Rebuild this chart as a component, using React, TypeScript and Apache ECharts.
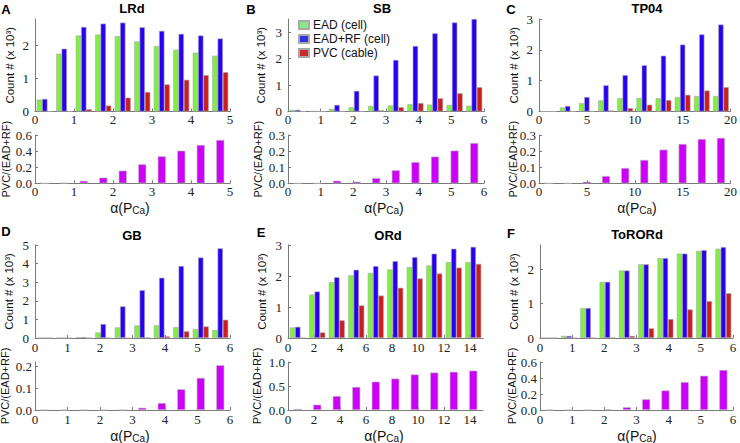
import React, { useEffect, useRef } from "react";
import * as echarts from "echarts";

// ---------- data ----------
const seriesNames = ["EAD (cell)", "EAD+RF (cell)", "PVC (cable)"];
const panelLetters = ["A", "B", "C", "D", "E", "F"];
const modelNames = ["LRd", "SB", "TP04", "GB", "ORd", "ToRORd"];

const alphaLRd = [0.25, 0.75, 1.25, 1.75, 2.25, 2.75, 3.25, 3.75, 4.25, 4.75];
const eadLRd = [0.36, 1.75, 2.3, 2.33, 2.28, 2.12, 1.98, 1.87, 1.78, 1.69];
const eadRfLRd = [0.38, 1.9, 2.56, 2.66, 2.69, 2.55, 2.44, 2.35, 2.3, 2.21];
const pvcLRd = [0, 0.005, 0.07, 0.18, 0.42, 0.59, 0.82, 0.96, 1.1, 1.19];
const ratioLRd = [0, 0.005, 0.029, 0.07, 0.157, 0.236, 0.335, 0.405, 0.476, 0.538];

const alphaSB = [0.3, 0.9, 1.5, 2.1, 2.7, 3.3, 3.9, 4.5, 5.1, 5.7];
const eadSB = [0.06, 0.01, 0.1, 0.16, 0.21, 0.23, 0.28, 0.26, 0.25, 0.22];
const eadRfSB = [0.06, 0.005, 0.25, 0.78, 1.36, 1.95, 2.48, 2.96, 3.37, 3.5];
const pvcSB = [0, 0, 0.004, 0.008, 0.04, 0.16, 0.32, 0.5, 0.69, 0.92];
const ratioSB = [0, 0, 0.016, 0.01, 0.032, 0.081, 0.132, 0.166, 0.203, 0.25];

const alphaTP04 = [1, 3, 5, 7, 9, 11, 13, 15, 17, 19];
const eadTP04 = [0, 0.13, 0.27, 0.36, 0.43, 0.44, 0.43, 0.47, 0.5, 0.5];
const eadRfTP04 = [0, 0.18, 0.47, 0.85, 1.18, 1.5, 1.81, 2.17, 2.5, 2.82];
const pvcTP04 = [0, 0, 0.005, 0.03, 0.11, 0.22, 0.37, 0.54, 0.68, 0.79];
const ratioTP04 = [0, 0, 0.01, 0.045, 0.095, 0.145, 0.209, 0.244, 0.275, 0.282];

const alphaGB = [0.3, 0.9, 1.5, 2.1, 2.7, 3.3, 3.9, 4.5, 5.1, 5.7];
const eadGB = [0, 0, 0.04, 0.3, 0.57, 0.68, 0.68, 0.58, 0.48, 0.43];
const eadRfGB = [0, 0, 0.05, 0.75, 1.7, 2.57, 3.24, 3.87, 4.33, 4.82];
const pvcGB = [0, 0, 0, 0, 0, 0.02, 0.09, 0.36, 0.62, 0.98];
const ratioGB = [0, 0, 0, 0, 0, 0.01, 0.032, 0.095, 0.147, 0.205];

const alphaORd = [0.75, 2.25, 3.75, 5.25, 6.75, 8.25, 9.75, 11.25, 12.75, 14.25];
const eadORd = [0.34, 1.4, 1.8, 2.02, 2.1, 2.21, 2.29, 2.34, 2.45, 2.45];
const eadRfORd = [0.36, 1.5, 1.96, 2.2, 2.32, 2.48, 2.61, 2.72, 2.88, 2.94];
const pvcORd = [0, 0.18, 0.57, 1.05, 1.37, 1.62, 1.92, 2.08, 2.27, 2.39];
const ratioORd = [0.02, 0.11, 0.29, 0.48, 0.59, 0.655, 0.74, 0.78, 0.795, 0.82];

const alphaToRORd = [0.3, 0.9, 1.5, 2.1, 2.7, 3.3, 3.9, 4.5, 5.1, 5.7];
const eadToRORd = [0, 0.06, 0.87, 1.63, 1.96, 2.14, 2.32, 2.45, 2.53, 2.59];
const eadRfToRORd = [0, 0.06, 0.87, 1.63, 1.96, 2.14, 2.32, 2.45, 2.55, 2.64];
const pvcToRORd = [0, 0, 0, 0.01, 0.06, 0.28, 0.55, 0.83, 1.07, 1.3];
const ratioToRORd = [0, 0, 0, 0.008, 0.034, 0.134, 0.244, 0.349, 0.428, 0.5];

const xAxisMax = [5, 6, 20, 6, 15, 6];
const xAxisInterval = [1, 1, 5, 1, 2, 1];
const countAxisMax = [2.8, 3.5, 3, 5, 3, 2.7];
const ratioAxisMax = [0.6, 0.3, 0.3, 0.22, 1.0, 0.6];
const ratioAxisInterval = [0.2, 0.1, 0.1, 0.1, 0.5, 0.2];

const panelData = [
  { alpha: alphaLRd, ead: eadLRd, eadRf: eadRfLRd, pvc: pvcLRd, ratio: ratioLRd },
  { alpha: alphaSB, ead: eadSB, eadRf: eadRfSB, pvc: pvcSB, ratio: ratioSB },
  { alpha: alphaTP04, ead: eadTP04, eadRf: eadRfTP04, pvc: pvcTP04, ratio: ratioTP04 },
  { alpha: alphaGB, ead: eadGB, eadRf: eadRfGB, pvc: pvcGB, ratio: ratioGB },
  { alpha: alphaORd, ead: eadORd, eadRf: eadRfORd, pvc: pvcORd, ratio: ratioORd },
  { alpha: alphaToRORd, ead: eadToRORd, eadRf: eadRfToRORd, pvc: pvcToRORd, ratio: ratioToRORd },
];

// ---------- layout / style ----------
const plotLeft = [35, 288, 539, 35, 288, 540];
const plotRight = [230, 484, 733, 230, 483, 733];
const rowLayout = [
  { countTop: 19, countBottom: 111.5, ratioTop: 135, ratioBottom: 183.3, countLabelMargin: 1, ratioLabelMargin: 2, alphaY: 208 },
  { countTop: 245, countBottom: 338, ratioTop: 362, ratioBottom: 410, countLabelMargin: 3, ratioLabelMargin: 2.5, alphaY: 436 },
];
const letterPos = [[6, 9], [251, 9], [511, 9], [6, 231], [261, 232], [511, 233]];
const titlePos = [[132, 8], [382, 8.5], [647, 8], [132, 235], [388, 235], [637, 234]];
const countTitleX = [10, 261, 514, 9, 262, 514];
const ratioTitleX = [6, 258, 513, 5, 257, 512];
const alphaTitleX = [130, 384, 637, 130, 384, 637];

const barColors = ["#80f040", "#2a00f5", "#cc1c1c"];
const legendColors = ["#86ec86", "#3030e6", "#cc2a2a"];
const ratioColor = "#cc00f8";
const axisColor = "#7a7a7a";
const serif = "Liberation Serif";
const sans = "Liberation Sans";

function buildOption() {
  const grid: any[] = [];
  const xAxis: any[] = [];
  const yAxis: any[] = [];
  const series: any[] = [];
  const graphic: any[] = [];

  panelData.forEach((p, i) => {
    const row = rowLayout[i < 3 ? 0 : 1];
    const left = plotLeft[i];
    const width = plotRight[i] - plotLeft[i];
    const cats = p.alpha.map(String);
    const isWhole = (m: number, s: number) => Math.abs(m / s - Math.round(m / s)) < 1e-6;

    const makeValueX = (g: number, margin: number) => ({
      type: "value",
      gridIndex: g,
      position: "bottom",
      min: 0,
      max: xAxisMax[i],
      interval: xAxisInterval[i],
      axisLine: { show: true, onZero: false, lineStyle: { color: axisColor, width: 1 } },
      axisTick: { show: true, inside: true, length: 3, lineStyle: { color: axisColor } },
      splitLine: { show: false },
      axisLabel: {
        fontFamily: serif,
        fontSize: 13,
        lineHeight: 13,
        color: "#222",
        margin,
        showMaxLabel: isWhole(xAxisMax[i], xAxisInterval[i]),
      },
    });

    // count grid
    const gc = 2 * i;
    grid.push({ left, width, top: row.countTop, height: row.countBottom - row.countTop });
    xAxis.push({ type: "category", gridIndex: gc, data: cats, show: false, position: "top", boundaryGap: true });
    xAxis.push(makeValueX(gc, row.countLabelMargin));
    yAxis.push({
      type: "value",
      gridIndex: gc,
      min: 0,
      max: countAxisMax[i],
      interval: 1,
      axisLine: { show: true, lineStyle: { color: axisColor } },
      axisTick: { show: true, inside: true, length: 3, lineStyle: { color: axisColor } },
      splitLine: { show: false },
      axisLabel: {
        fontFamily: serif,
        fontSize: 13,
        color: "#222",
        margin: 6,
        showMaxLabel: isWhole(countAxisMax[i], 1),
      },
    });
    const vals = [p.ead, p.eadRf, p.pvc];
    vals.forEach((arr, k) => {
      series.push({
        type: "bar",
        name: seriesNames[k],
        xAxisIndex: 2 * gc,
        yAxisIndex: gc,
        data: arr,
        barGap: "0%",
        barCategoryGap: "18%",
        itemStyle: { color: barColors[k], borderColor: "#a8a8a8", borderWidth: 0.6 },
      });
    });

    // ratio grid
    const gr = 2 * i + 1;
    grid.push({ left, width, top: row.ratioTop, height: row.ratioBottom - row.ratioTop });
    xAxis.push({ type: "category", gridIndex: gr, data: cats, show: false, position: "top", boundaryGap: true });
    xAxis.push(makeValueX(gr, row.ratioLabelMargin));
    yAxis.push({
      type: "value",
      gridIndex: gr,
      min: 0,
      max: ratioAxisMax[i],
      interval: ratioAxisInterval[i],
      axisLine: { show: true, lineStyle: { color: axisColor } },
      axisTick: { show: true, inside: true, length: 3, lineStyle: { color: axisColor } },
      splitLine: { show: false },
      axisLabel: {
        fontFamily: serif,
        fontSize: 13,
        color: "#222",
        margin: 3,
        showMaxLabel: isWhole(ratioAxisMax[i], ratioAxisInterval[i]),
        formatter: (v: number) => v.toFixed(1),
      },
    });
    series.push({
      type: "bar",
      name: "PVC/(EAD+RF)",
      xAxisIndex: 2 * gr,
      yAxisIndex: gr,
      data: p.ratio,
      barWidth: 8,
      itemStyle: { color: ratioColor, borderColor: "#b8b8b8", borderWidth: 0.6 },
    });

    // texts
    graphic.push({
      type: "text",
      x: letterPos[i][0],
      y: letterPos[i][1],
      style: { text: panelLetters[i], font: `bold 13px ${sans}`, fill: "#000", align: "center", verticalAlign: "middle" },
    });
    graphic.push({
      type: "text",
      x: titlePos[i][0],
      y: titlePos[i][1],
      style: { text: modelNames[i], font: `bold 13px ${sans}`, fill: "#000", align: "center", verticalAlign: "middle" },
    });
    graphic.push({
      type: "text",
      x: countTitleX[i],
      y: (row.countTop + row.countBottom) / 2,
      rotation: Math.PI / 2,
      style: { text: "Count # (x 10³)", font: `11.5px ${sans}`, fill: "#111", align: "center", verticalAlign: "middle" },
    });
    graphic.push({
      type: "text",
      x: ratioTitleX[i],
      y: (row.ratioTop + row.ratioBottom) / 2,
      rotation: Math.PI / 2,
      style: { text: "PVC/(EAD+RF)", font: `11px ${sans}`, fill: "#111", align: "center", verticalAlign: "middle" },
    });
    graphic.push({
      type: "text",
      x: alphaTitleX[i],
      y: row.alphaY,
      style: {
        text: "{m|α(P}{s|Ca}{m|)}",
        align: "center",
        verticalAlign: "middle",
        fill: "#111",
        rich: {
          m: { fontFamily: sans, fontSize: 14, lineHeight: 14, fill: "#111" },
          s: { fontFamily: sans, fontSize: 10, lineHeight: 8, verticalAlign: "bottom", fill: "#111" },
        },
      },
    });
  });

  return {
    animation: false,
    backgroundColor: "#ffffff",
    grid,
    xAxis,
    yAxis,
    series,
    graphic,
    legend: {
      orient: "vertical",
      left: 293,
      top: 14,
      itemWidth: 10,
      itemHeight: 8,
      itemGap: 2,
      icon: "rect",
      selectedMode: false,
      textStyle: { fontFamily: sans, fontSize: 12, color: "#111", padding: [0, 0, 0, -1] },
      data: seriesNames.map((n, k) => ({ name: n, itemStyle: { color: legendColors[k] } })),
    },
  };
}

export default function App() {
  const ref = useRef<HTMLDivElement>(null);
  useEffect(() => {
    if (!ref.current) return;
    const chart = echarts.init(ref.current, undefined, { renderer: "svg" });
    chart.setOption(buildOption() as any);
    return () => chart.dispose();
  }, []);
  return (
    <div
      ref={ref}
      style={{ position: "absolute", left: 0, top: 0, width: 740, height: 443, background: "#fff" }}
    />
  );
}
